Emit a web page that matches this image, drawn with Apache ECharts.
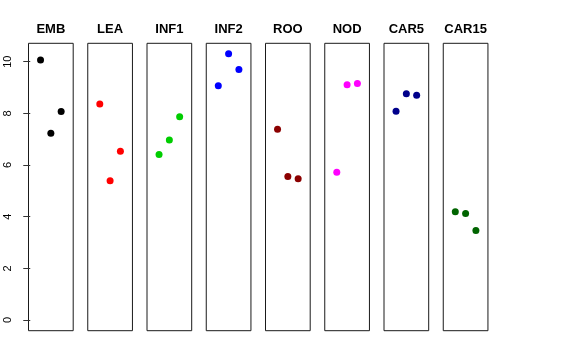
<!DOCTYPE html>
<html>
<head>
<meta charset="utf-8">
<script src="https://cdn.jsdelivr.net/npm/echarts@6/dist/echarts.min.js"></script>
<style>html,body{margin:0;padding:0;background:#fff}#c{width:576px;height:360px}</style>
</head>
<body>
<div id="c"></div>
<script>
// Data
var categories = ['EMB', 'LEA', 'INF1', 'INF2', 'ROO', 'NOD', 'CAR5', 'CAR15'];
var rep1 = [10.07, 8.36, 6.41, 9.07, 7.39, 5.72, 8.08, 4.19];
var rep2 = [7.23, 5.39, 6.97, 10.31, 5.56, 9.11, 8.76, 4.12];
var rep3 = [8.07, 6.53, 7.87, 9.70, 5.47, 9.16, 8.70, 3.47];
var xPositions = [1, 2, 3];
var yTickValues = [0, 2, 4, 6, 8, 10];
var palette = ['#000000', '#FF0000', '#00CD00', '#0000FF', '#8B0000', '#FF00FF', '#00008B', '#006400'];

var FONT = '"Liberation Sans", Arial, Helvetica, sans-serif';
var panelLeft0 = 28.5, panelStep = 59.25, panelW = 44.7, panelTop = 43.3, panelH = 287.4;
var yMin = -0.412, yMax = 10.712;

var grids = [], xAxes = [], yAxes = [], series = [], titles = [];
categories.forEach(function (cat, i) {
  var left = panelLeft0 + i * panelStep;
  grids.push({left: left, top: panelTop, width: panelW, height: panelH, show: true,
    borderColor: '#1a1a1a', borderWidth: 1, backgroundColor: 'transparent', containLabel: false});
  xAxes.push({type: 'value', gridIndex: i, min: -0.17, max: 4.17, show: false});
  var ya = {type: 'value', gridIndex: i, min: yMin, max: yMax,
    axisLine: {show: false}, splitLine: {show: false},
    axisTick: {show: false}, axisLabel: {show: false}};
  if (i === 0) {
    ya.axisTick = {show: true, length: 7, customValues: yTickValues,
      lineStyle: {color: '#333', width: 1}};
    ya.axisLabel = {show: true, customValues: yTickValues, rotate: 90, margin: 15,
      fontFamily: FONT, fontSize: 11, color: '#000'};
  }
  yAxes.push(ya);
  titles.push({text: cat, left: left + panelW / 2, top: 23, textAlign: 'center', padding: 0,
    textStyle: {fontFamily: FONT, fontSize: 13, fontWeight: 'bold', color: '#000'}});
  series.push({type: 'scatter', xAxisIndex: i, yAxisIndex: i, symbol: 'circle', symbolSize: 7,
    itemStyle: {color: palette[i], opacity: 1},
    data: xPositions.map(function (x, k) { return [x, [rep1, rep2, rep3][k][i]]; }),
    silent: true, animation: false});
});

var chart = echarts.init(document.getElementById('c'), null, {renderer: 'canvas'});
chart.setOption({
  animation: false,
  backgroundColor: '#fff',
  title: titles,
  grid: grids,
  xAxis: xAxes,
  yAxis: yAxes,
  series: series
});
</script>
</body>
</html>
